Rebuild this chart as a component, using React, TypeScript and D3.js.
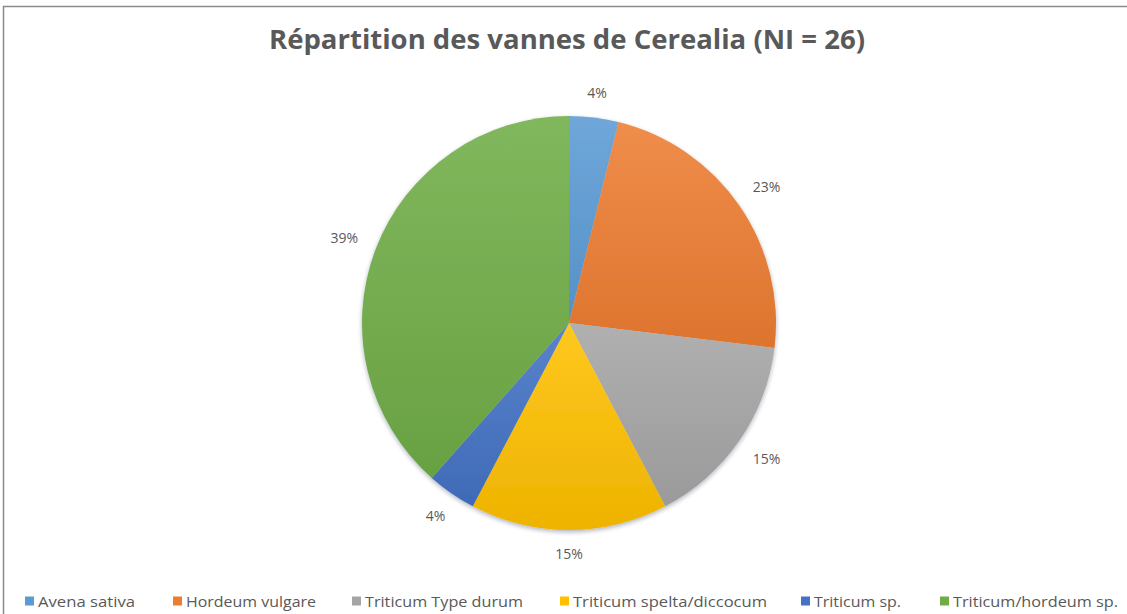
import React from 'react';
import * as d3 from 'd3';

const categories = [
  'Avena sativa',
  'Hordeum vulgare',
  'Triticum Type durum',
  'Triticum spelta/diccocum',
  'Triticum sp.',
  'Triticum/hordeum sp.',
];
const counts = [1, 6, 4, 4, 1, 10];
const percentLabels = ['4%', '23%', '15%', '15%', '4%', '39%'];
const colors = ['#5B9BD5', '#ED7D31', '#A5A5A5', '#FFC000', '#4472C4', '#70AD47'];

// legend layout (square x, text width)
const legendX = [25, 173, 352, 560, 801, 940];
const legendW = [97, 130, 158, 194, 87, 165];

const W = 1127;
const H = 614;

export default function App() {
  const cx = 569;
  const cy = 323;
  const r = 207;

  const pie = d3.pie<number>().sort(null).value(d => d);
  const arcs = pie(counts);
  const arcGen = d3.arc<d3.PieArcDatum<number>>().innerRadius(0).outerRadius(r);

  // outside-end labels, pushed out by half the text box
  const labelPos = (a: d3.PieArcDatum<number>, text: string) => {
    const mid = (a.startAngle + a.endAngle) / 2;
    const s = Math.sin(mid);
    const c = Math.cos(mid);
    const w = text.length * 10;
    const h = 13;
    const d = 224 + Math.abs(s) * w / 2 + Math.abs(c) * h / 2;
    return [cx + d * s, cy - d * c];
  };

  return (
    <svg width={W} height={H} style={{ position: 'absolute', left: 0, top: 0 }}
      fontFamily="'Open Sans', sans-serif">
      <defs>
        {colors.map((c, i) => (
          <linearGradient key={i} id={`g${i}`} x1="0" y1="0" x2="0" y2="1">
            <stop offset="0" stopColor={d3.interpolateRgb(c, '#ffffff')(0.12)} />
            <stop offset="1" stopColor={d3.color(c)!.darker(0.2).toString()} />
          </linearGradient>
        ))}
        <filter id="shadow" x="-10%" y="-10%" width="120%" height="120%">
          <feDropShadow dx="0" dy="2" stdDeviation="2" floodColor="#1f2d4a" floodOpacity="0.35" />
        </filter>
      </defs>
      <rect width={W} height={H} fill="#ffffff" />
      <path d={`M3.5,${H} V6.5 H${W}`} fill="none" stroke="#8a8a8a" strokeWidth={1.5} />

      <text x={567} y={49} textAnchor="middle" fontSize={26} fontWeight="bold" fill="#595959"
        textLength={596} lengthAdjust="spacingAndGlyphs">
        Répartition  des vannes de Cerealia (NI = 26)
      </text>

      <g transform={`translate(${cx},${cy})`} filter="url(#shadow)">
        {arcs.map((a, i) => (
          <path key={i} d={arcGen(a) ?? ''} fill={`url(#g${i})`} />
        ))}
      </g>

      {arcs.map((a, i) => {
        const [x, y] = labelPos(a, percentLabels[i]);
        return (
          <text key={i} x={x} y={y + 5} textAnchor="middle" fontSize={14} fill="#595959">
            {percentLabels[i]}
          </text>
        );
      })}

      {categories.map((c, i) => (
        <g key={c} transform={`translate(${legendX[i]},601)`}>
          <rect x={0} y={-4.5} width={9} height={9} fill={colors[i]} />
          <text x={13} y={5.5} fontSize={15} fill="#595959"
            textLength={legendW[i]} lengthAdjust="spacingAndGlyphs">{c}</text>
        </g>
      ))}
    </svg>
  );
}
